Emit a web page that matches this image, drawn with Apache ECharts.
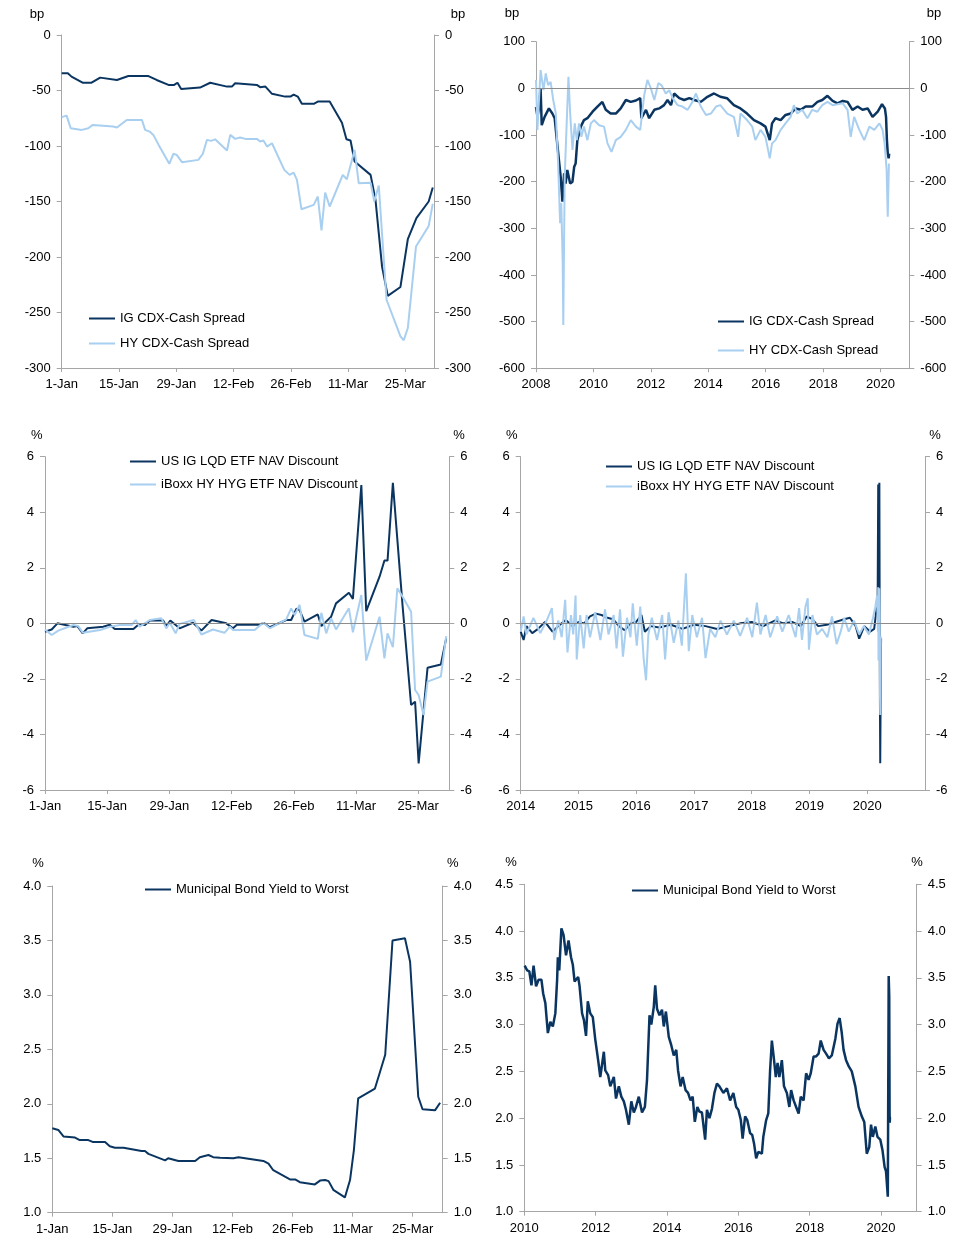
<!DOCTYPE html>
<html><head><meta charset="utf-8">
<script src="https://cdn.jsdelivr.net/npm/echarts/dist/echarts.min.js"></script>
<style>html,body{margin:0;padding:0;background:#fff}#c{width:962px;height:1247px}</style>
</head><body><div id="c"></div><script>
// ---------- DATA ----------
const dayTickLabels = ['1-Jan','15-Jan','29-Jan','12-Feb','26-Feb','11-Mar','25-Mar'];
const nameIG = 'IG CDX-Cash Spread';
const nameHY = 'HY CDX-Cash Spread';
const nameLQD = 'US IG LQD ETF NAV Discount';
const nameHYG = 'iBoxx HY HYG ETF NAV Discount';
const nameMuni = 'Municipal Bond Yield to Worst';

// Panel 1: YTD 2020 CDX-cash (day of year, bp)
const igCdxYtd = [[0,-34.5],[1.5,-34.5],[2.4,-37.5],[5.1,-43],[7.3,-43],[9.4,-38.4],[13.5,-40.5],[16.3,-37],[21.2,-37],[23.2,-40.5],[26.1,-45],[27.5,-45],[28.3,-43],[29.2,-48.6],[33.8,-47.4],[36.3,-43],[40.4,-46.5],[41.6,-46.5],[42.4,-43.5],[47.7,-45],[48.5,-47],[49.8,-46.5],[51.4,-53],[54.6,-55.5],[55.9,-55.5],[56.7,-53.7],[57.7,-55.5],[58.7,-62],[61.6,-62],[62.6,-60],[65.5,-60],[68.5,-79],[69.6,-94],[70.6,-95],[71.6,-114],[75.5,-126],[76.7,-148.5],[78.3,-208.5],[79.7,-235],[82.8,-227],[84.6,-184],[86.7,-165],[89.7,-150],[90.7,-137.4]];
const hyCdxYtd = [[0,-74],[1.2,-72.6],[2.2,-84],[4.9,-85.5],[6.5,-84],[7.6,-81],[12.6,-82.5],[13.5,-83.4],[15.9,-76.5],[19.6,-76.5],[20.4,-85.5],[21.5,-87],[22.4,-90],[23.7,-99],[26.3,-116],[27.3,-107],[28.1,-108],[29.4,-114.6],[33.4,-112.5],[34.5,-107],[35.5,-94.5],[36.5,-95.4],[37.5,-94],[40.4,-104],[41.2,-90],[42.4,-93.6],[43.6,-92.4],[44.9,-93.6],[47.7,-93.6],[48.5,-96],[49.3,-95],[50.2,-100.5],[51.4,-97.5],[54.4,-121.5],[55.7,-126],[56.7,-124],[57.5,-130.5],[58.6,-157],[61.6,-153],[62.6,-145.5],[63.5,-176],[64.4,-142],[65.5,-154.5],[68.7,-126],[69.7,-130],[71.6,-103.5],[72.6,-133.5],[75.5,-133],[76.4,-150],[77.5,-135.6],[79.4,-238.5],[82.8,-271.5],[83.6,-275],[84.6,-264],[86.6,-190.5],[89.7,-172],[90.7,-152]];

// Panel 2: history 2008-2020 CDX-cash (year, bp)
const igCdxHist = [[2008.0,-40],[2008.05,-60],[2008.1,-43],[2008.16,0],[2008.2,-79],[2008.3,-61],[2008.45,-43],[2008.57,-54],[2008.65,-64],[2008.75,-125],[2008.86,-190],[2008.92,-243],[2008.98,-182],[2009.03,-204],[2009.09,-175],[2009.19,-204],[2009.27,-200],[2009.33,-168],[2009.38,-161],[2009.44,-111],[2009.56,-82],[2009.67,-68],[2009.79,-64],[2009.97,-50],[2010.14,-39],[2010.31,-29],[2010.43,-46],[2010.6,-54],[2010.78,-54],[2010.95,-43],[2011.13,-25],[2011.3,-29],[2011.48,-26],[2011.63,-21],[2011.67,-64],[2011.83,-46],[2011.94,-64],[2012.12,-46],[2012.29,-43],[2012.46,-36],[2012.58,-25],[2012.7,-36],[2012.81,-11],[2012.99,-21],[2013.16,-25],[2013.34,-21],[2013.51,-25],[2013.74,-29],[2013.97,-18],[2014.2,-11],[2014.42,-18],[2014.65,-21],[2014.89,-36],[2015.12,-43],[2015.35,-54],[2015.59,-68],[2015.82,-75],[2015.99,-82],[2016.14,-111],[2016.22,-75],[2016.34,-64],[2016.52,-68],[2016.69,-57],[2016.87,-54],[2017.04,-43],[2017.22,-46],[2017.39,-39],[2017.62,-39],[2017.8,-29],[2017.97,-25],[2018.15,-16],[2018.33,-27],[2018.5,-32],[2018.68,-27],[2018.85,-29],[2019.02,-46],[2019.2,-39],[2019.37,-46],[2019.55,-43],[2019.72,-61],[2019.9,-50],[2020.05,-34],[2020.15,-43],[2020.19,-61],[2020.22,-111],[2020.25,-139],[2020.28,-150],[2020.3,-140]];
const hyCdxHist = [[2008.0,18],[2008.05,-89],[2008.11,-18],[2008.16,39],[2008.26,-4],[2008.34,32],[2008.42,7],[2008.51,14],[2008.6,-25],[2008.69,-54],[2008.77,-161],[2008.84,-289],[2008.88,-246],[2008.93,-375],[2008.95,-507],[2009.0,-189],[2009.06,-89],[2009.13,25],[2009.19,-54],[2009.27,-132],[2009.35,-75],[2009.42,-111],[2009.5,-75],[2009.58,-104],[2009.67,-82],[2009.79,-111],[2009.91,-75],[2010.02,-68],[2010.2,-79],[2010.37,-82],[2010.49,-118],[2010.63,-136],[2010.78,-111],[2010.95,-104],[2011.13,-89],[2011.3,-68],[2011.48,-82],[2011.63,-89],[2011.77,-14],[2011.88,18],[2012.0,0],[2012.12,-25],[2012.26,11],[2012.37,7],[2012.52,-11],[2012.64,-4],[2012.76,-21],[2012.93,-36],[2013.1,-39],[2013.28,-46],[2013.45,-29],[2013.57,-11],[2013.74,-39],[2013.92,-57],[2014.09,-54],[2014.27,-39],[2014.42,-36],[2014.66,-54],[2014.89,-61],[2015.04,-104],[2015.12,-54],[2015.35,-68],[2015.53,-82],[2015.64,-111],[2015.82,-89],[2015.99,-104],[2016.14,-150],[2016.22,-118],[2016.34,-111],[2016.52,-89],[2016.69,-75],[2016.87,-61],[2016.98,-36],[2017.1,-54],[2017.27,-46],[2017.45,-64],[2017.62,-46],[2017.8,-50],[2017.97,-36],[2018.15,-29],[2018.33,-36],[2018.5,-34],[2018.68,-32],[2018.85,-46],[2018.96,-104],[2019.08,-61],[2019.26,-89],[2019.43,-111],[2019.61,-82],[2019.78,-89],[2019.96,-75],[2020.07,-89],[2020.14,-118],[2020.21,-175],[2020.25,-275],[2020.29,-161]];

// Panel 3: YTD 2020 ETF NAV discount (day of year, %)
const lqdYtd = [[0,-0.3],[1.5,-0.22],[2.8,0],[6.4,-0.12],[7.3,-0.1],[8.5,-0.36],[9.5,-0.18],[13.1,-0.12],[14.6,-0.05],[15.7,-0.2],[19.9,-0.2],[21.2,-0.02],[22.5,-0.06],[23.6,0.1],[26.6,0.1],[27.3,-0.1],[28.2,0.1],[30.3,-0.18],[33.3,0.02],[35.2,-0.26],[37.5,0.12],[40.8,0],[42.3,-0.18],[43.2,-0.05],[48.3,-0.05],[49.2,0.02],[50.6,-0.14],[54.3,0.12],[55.4,0.12],[56.6,0.53],[57.3,0.48],[58.4,0.06],[61.4,0.32],[62.2,-0.1],[64.4,0.24],[65.5,0.72],[68.4,1.1],[69.3,0.88],[71.2,4.98],[72.3,0.44],[75.3,1.68],[76.4,2.26],[77.1,2.26],[78.3,5.06],[80.5,0.6],[82.4,-2.94],[83.3,-2.82],[84.1,-5.04],[86.1,-1.6],[89.1,-1.48],[90.3,-0.54]];
const hygYtd = [[0,-0.22],[1.5,-0.42],[3,-0.26],[6.4,-0.06],[7.5,-0.1],[8.5,-0.34],[12.4,-0.24],[14.6,-0.12],[16.9,-0.06],[19.5,-0.06],[20.4,0.12],[21.3,-0.12],[23.6,0.12],[26.2,0.18],[27.3,-0.18],[28.1,0.02],[29.4,-0.36],[30.3,-0.02],[33.5,0.12],[35.2,-0.4],[37.8,-0.22],[40.4,-0.34],[41.6,-0.12],[42.3,-0.24],[47.2,-0.24],[49.1,0.02],[50.6,-0.18],[54.3,0.14],[55.4,0.54],[56.2,0.3],[57.3,0.66],[58.4,-0.42],[61.4,-0.56],[62.2,0.38],[63.3,-0.36],[64.4,0.18],[65.5,-0.22],[68.4,0.54],[69.3,-0.32],[71.2,1.02],[72.3,-1.34],[75.3,0.24],[76.4,-1.26],[77.1,-0.36],[78.3,-0.86],[79.3,1.26],[80.5,0.96],[82.4,0.42],[83.3,-2.4],[84.1,-2.58],[85.2,-3.3],[86.1,-2.1],[89.1,-1.92],[90.3,-0.46]];

// Panel 4: history 2014-2020 ETF NAV discount (year, %)
const lqdHist = [[2014.0,-0.3],[2014.05,-0.6],[2014.1,-0.1],[2014.2,-0.35],[2014.3,-0.2],[2014.42,0.05],[2014.55,-0.3],[2014.65,-0.1],[2014.78,0.12],[2014.9,-0.1],[2015.0,0.05],[2015.1,0.0],[2015.2,0.25],[2015.3,0.35],[2015.4,0.3],[2015.5,0.2],[2015.6,0.15],[2015.7,-0.1],[2015.8,-0.25],[2015.9,0.0],[2016.0,0.05],[2016.09,0.3],[2016.15,-0.3],[2016.25,-0.1],[2016.4,-0.15],[2016.6,-0.05],[2016.8,-0.2],[2017.0,-0.05],[2017.2,-0.1],[2017.4,-0.2],[2017.6,-0.1],[2017.8,0.0],[2018.0,0.05],[2018.2,-0.1],[2018.4,0.1],[2018.55,0.0],[2018.7,0.05],[2018.85,-0.1],[2018.95,0.25],[2019.05,0.15],[2019.15,-0.1],[2019.3,-0.05],[2019.45,0.05],[2019.6,0.15],[2019.7,0.2],[2019.8,-0.1],[2019.86,-0.55],[2019.95,-0.1],[2020.05,-0.3],[2020.12,-0.2],[2020.16,0.5],[2020.18,0.9],[2020.19,5.0],[2020.195,0.44],[2020.2,1.68],[2020.205,2.26],[2020.21,5.06],[2020.215,0.6],[2020.22,-2.9],[2020.225,-5.04],[2020.23,-3.3],[2020.235,-1.5],[2020.24,-0.54]];
const hygHist = [[2014.0,-0.3],[2014.05,0.25],[2014.1,-0.4],[2014.22,0.2],[2014.34,-0.35],[2014.45,0.1],[2014.54,0.55],[2014.58,-0.6],[2014.65,0.1],[2014.71,-0.5],[2014.77,0.85],[2014.81,-1.05],[2014.87,0.3],[2014.91,-0.4],[2014.95,1.0],[2014.97,-1.3],[2015.03,0.3],[2015.09,-0.9],[2015.14,0.3],[2015.2,-0.5],[2015.29,0.4],[2015.38,-0.6],[2015.46,0.5],[2015.52,-0.4],[2015.61,0.3],[2015.66,-0.9],[2015.72,0.5],[2015.77,-1.2],[2015.84,0.2],[2015.9,-0.5],[2015.94,0.72],[2016.01,-0.8],[2016.07,0.6],[2016.13,-1.3],[2016.17,-2.05],[2016.21,-0.4],[2016.27,0.2],[2016.36,-0.6],[2016.45,0.3],[2016.5,-1.3],[2016.56,0.4],[2016.65,-0.7],[2016.73,0.1],[2016.79,-0.8],[2016.86,1.8],[2016.91,-1.0],[2016.97,0.3],[2017.05,-0.5],[2017.14,0.2],[2017.2,-1.25],[2017.28,-0.2],[2017.37,-0.5],[2017.46,0.1],[2017.57,-0.4],[2017.69,0.1],[2017.8,-0.45],[2017.92,0.2],[2018.01,-0.5],[2018.09,0.75],[2018.15,-0.4],[2018.24,0.3],[2018.32,-0.5],[2018.44,0.25],[2018.53,-0.3],[2018.64,0.3],[2018.76,-0.5],[2018.82,0.55],[2018.87,-0.6],[2018.93,0.6],[2018.97,0.9],[2018.99,-0.95],[2019.05,0.3],[2019.13,-0.4],[2019.22,-0.2],[2019.31,-0.5],[2019.39,0.25],[2019.47,-0.75],[2019.54,-0.3],[2019.6,0.2],[2019.68,-0.3],[2019.77,0.1],[2019.86,-0.4],[2019.94,-0.1],[2020.03,-0.4],[2020.1,0.2],[2020.14,0.6],[2020.17,1.0],[2020.185,-0.3],[2020.19,1.3],[2020.195,-1.34],[2020.2,0.24],[2020.205,-1.26],[2020.21,1.26],[2020.215,0.42],[2020.22,-2.4],[2020.225,-3.3],[2020.23,-1.92],[2020.235,-0.46]];

// Panel 5: YTD 2020 muni yield to worst (day of year, %)
const muniYtd = [[0,1.775],[1.4,1.76],[2.6,1.70],[5.3,1.69],[6.4,1.667],[8.4,1.667],[9.4,1.65],[12.3,1.65],[13.4,1.61],[14.6,1.597],[16.6,1.597],[20.8,1.566],[21.6,1.566],[22.4,1.54],[26.3,1.48],[27,1.50],[29.4,1.475],[33.3,1.475],[34.4,1.51],[36.4,1.53],[37.5,1.51],[39.1,1.505],[42.2,1.50],[43.4,1.51],[49.2,1.475],[50.4,1.45],[51.5,1.39],[55.4,1.306],[56.6,1.306],[57.7,1.28],[61.2,1.26],[62.4,1.295],[63.6,1.30],[64.4,1.29],[65.5,1.21],[68.2,1.14],[69.4,1.30],[70.3,1.575],[71.3,2.05],[75.2,2.14],[76.4,2.295],[77.6,2.45],[79.3,3.50],[82.2,3.52],[83.4,3.305],[85.3,2.065],[86.3,1.95],[89.2,1.94],[90.4,2.01]];

// Panel 6: history 2010-2020 muni yield to worst (year, %)
const muniHist = [[2010.01,3.63],[2010.08,3.58],[2010.14,3.57],[2010.2,3.42],[2010.26,3.63],[2010.33,3.41],[2010.4,3.48],[2010.48,3.48],[2010.53,3.33],[2010.59,3.23],[2010.66,2.91],[2010.73,3.03],[2010.8,2.98],[2010.87,3.12],[2010.92,3.48],[2010.94,3.72],[2010.98,3.58],[2011.04,4.03],[2011.1,3.96],[2011.17,3.74],[2011.24,3.90],[2011.31,3.72],[2011.36,3.64],[2011.41,3.46],[2011.51,3.51],[2011.55,3.41],[2011.62,3.12],[2011.67,3.05],[2011.73,2.88],[2011.78,3.25],[2011.85,3.12],[2011.92,3.08],[2011.99,2.84],[2012.07,2.62],[2012.13,2.44],[2012.23,2.71],[2012.27,2.51],[2012.35,2.46],[2012.41,2.34],[2012.51,2.44],[2012.57,2.21],[2012.65,2.34],[2012.72,2.23],[2012.79,2.18],[2012.85,2.09],[2012.93,1.93],[2013.0,2.18],[2013.07,2.06],[2013.13,2.12],[2013.21,2.23],[2013.3,2.06],[2013.38,2.12],[2013.44,2.41],[2013.51,3.10],[2013.56,3.0],[2013.63,3.19],[2013.67,3.42],[2013.72,3.17],[2013.79,3.10],[2013.86,3.16],[2013.91,2.98],[2013.97,3.14],[2014.05,2.87],[2014.12,2.78],[2014.19,2.67],[2014.26,2.73],[2014.31,2.51],[2014.38,2.34],[2014.44,2.44],[2014.52,2.30],[2014.59,2.27],[2014.66,2.19],[2014.72,2.23],[2014.78,1.96],[2014.85,2.12],[2014.91,2.07],[2014.98,2.06],[2015.07,1.77],[2015.12,2.09],[2015.19,2.0],[2015.26,2.1],[2015.33,2.27],[2015.4,2.37],[2015.47,2.34],[2015.58,2.27],[2015.68,2.32],[2015.77,2.19],[2015.86,2.27],[2015.94,2.12],[2016.0,2.09],[2016.07,1.98],[2016.12,1.78],[2016.19,2.02],[2016.25,1.98],[2016.33,1.84],[2016.39,1.82],[2016.44,1.73],[2016.5,1.57],[2016.56,1.64],[2016.66,1.62],[2016.7,1.80],[2016.78,1.98],[2016.84,2.05],[2016.89,2.51],[2016.94,2.83],[2016.99,2.66],[2017.05,2.44],[2017.1,2.59],[2017.15,2.44],[2017.22,2.62],[2017.28,2.34],[2017.36,2.27],[2017.43,2.12],[2017.48,2.30],[2017.55,2.19],[2017.62,2.12],[2017.69,2.05],[2017.75,2.23],[2017.83,2.19],[2017.9,2.48],[2017.97,2.41],[2018.03,2.48],[2018.11,2.66],[2018.18,2.66],[2018.25,2.69],[2018.31,2.83],[2018.39,2.73],[2018.46,2.69],[2018.54,2.64],[2018.62,2.67],[2018.72,2.85],[2018.78,3.01],[2018.84,3.07],[2018.9,2.91],[2018.95,2.73],[2019.02,2.62],[2019.1,2.55],[2019.18,2.50],[2019.28,2.34],[2019.37,2.12],[2019.46,2.02],[2019.53,1.96],[2019.6,1.62],[2019.67,1.69],[2019.72,1.93],[2019.77,1.80],[2019.84,1.91],[2019.9,1.80],[2019.98,1.77],[2020.04,1.66],[2020.1,1.48],[2020.14,1.43],[2020.19,1.16],[2020.215,3.52],[2020.23,3.3],[2020.24,2.05],[2020.245,1.95],[2020.25,2.01]];

// ---------- STYLE ----------
const DARK = '#0b3561', LIGHT = '#a9cff0', AXIS = '#a6a6a6', ZERO = '#8c8c8c';
const FONT = '"Liberation Sans", Arial, sans-serif';
const txt = {color:'#000', fontSize:13, fontFamily:FONT};

const grids = [
  {left:61.7, right:528, top:35, bottom:879},
  {left:536, right:52.7, top:41.7, bottom:878.7},
  {left:45, right:512.7, top:456.7, bottom:457},
  {left:520.7, right:37, top:456.7, bottom:457},
  {left:52.3, right:519.3, top:886, bottom:34.3},
  {left:524.3, right:45.3, top:884.3, bottom:35.3}
].map(g => Object.assign({outerBoundsMode:'none', containLabel:false}, g));

function xDaily(i){
  return {type:'value', gridIndex:i, min:0, max:91, interval:14,
    splitLine:{show:false},
    axisLine:{onZero:false, lineStyle:{color:AXIS}},
    axisTick:{show:true, length:4, lineStyle:{color:AXIS}},
    axisLabel:Object.assign({margin:10, showMaxLabel:false,
      formatter:v => (v % 14 === 0 && dayTickLabels[v/14]) ? dayTickLabels[v/14] : ''}, txt)};
}
function xYears(i, min, max, interval){
  return {type:'value', gridIndex:i, min, max, interval,
    splitLine:{show:false},
    axisLine:{onZero:false, lineStyle:{color:AXIS}},
    axisTick:{show:true, length:4, lineStyle:{color:AXIS}},
    axisLabel:Object.assign({margin:10, showMaxLabel:false, formatter:v => String(Math.round(v))}, txt)};
}
function yPair(i, min, max, interval, dec){
  const base = pos => ({type:'value', gridIndex:i, position:pos, min, max, interval,
    splitLine:{show:false},
    axisLine:{show:true, onZero:false, lineStyle:{color:AXIS}},
    axisTick:{show:true, length:5, lineStyle:{color:AXIS}},
    axisLabel:Object.assign({margin:11, formatter:v => v.toFixed(dec)}, txt)});
  return [base('left'), base('right')];
}
function line(name, data, xi, yi, color, width, extra){
  return Object.assign({type:'line', name, data, xAxisIndex:xi, yAxisIndex:yi,
    showSymbol:false, symbol:'none', animation:false, silent:true,
    lineStyle:{color, width}, itemStyle:{color}}, extra || {});
}
const zeroLine = {markLine:{silent:true, symbol:'none', label:{show:false},
  lineStyle:{color:ZERO, type:'solid', width:1}, data:[{yAxis:0}], animation:false}};

function legend(names, left, top, gap){
  return {data:names, left, top, orient:'vertical', icon:'rect', itemWidth:26, itemHeight:2,
    itemGap:gap, padding:0, selectedMode:false, textStyle:txt};
}
function unit(t, x, y){
  return {type:'text', x, y, style:{text:t, fill:'#000', font:'13px ' + FONT, align:'center', verticalAlign:'middle'}};
}

const option = {
  backgroundColor:'#fff',
  animation:false,
  grid:grids,
  xAxis:[xDaily(0), xYears(1,2008,2021,2), xDaily(2), xYears(3,2014,2021,1), xDaily(4), xYears(5,2010,2021,2)],
  yAxis:[].concat(
    yPair(0,-300,0,50,0), yPair(1,-600,100,100,0), yPair(2,-6,6,2,0),
    yPair(3,-6,6,2,0), yPair(4,1,4,0.5,1), yPair(5,1,4.5,0.5,1)),
  legend:[
    legend([nameIG,nameHY], 89, 312, 12),
    legend([nameIG,nameHY], 718, 315, 16),
    legend([nameLQD,nameHYG], 130, 455, 10),
    legend([nameLQD,nameHYG], 606, 460, 7),
    legend([nameMuni], 145, 883, 10),
    legend([nameMuni], 632, 884, 10)
  ],
  graphic:[
    unit('bp',37,14), unit('bp',458,14),
    unit('bp',512,13.5), unit('bp',934,13.5),
    unit('%',36.7,435), unit('%',459,435),
    unit('%',511.7,435), unit('%',935,435),
    unit('%',38,863.5), unit('%',452.8,863.5),
    unit('%',511,862), unit('%',917,862)
  ],
  series:[
    line(nameIG, igCdxYtd, 0, 0, DARK, 2),
    line(nameHY, hyCdxYtd, 0, 0, LIGHT, 2),
    line(nameIG, igCdxHist, 1, 2, DARK, 2.5, zeroLine),
    line(nameHY, hyCdxHist, 1, 2, LIGHT, 2),
    line(nameLQD, lqdYtd, 2, 4, DARK, 2, zeroLine),
    line(nameHYG, hygYtd, 2, 4, LIGHT, 2),
    line(nameLQD, lqdHist, 3, 6, DARK, 2, zeroLine),
    line(nameHYG, hygHist, 3, 6, LIGHT, 2),
    line(nameMuni, muniYtd, 4, 8, DARK, 2),
    line(nameMuni, muniHist, 5, 10, DARK, 2.5)
  ]
};
const chart = echarts.init(document.getElementById('c'), null, {renderer:'canvas'});
chart.setOption(option);
</script></body></html>
